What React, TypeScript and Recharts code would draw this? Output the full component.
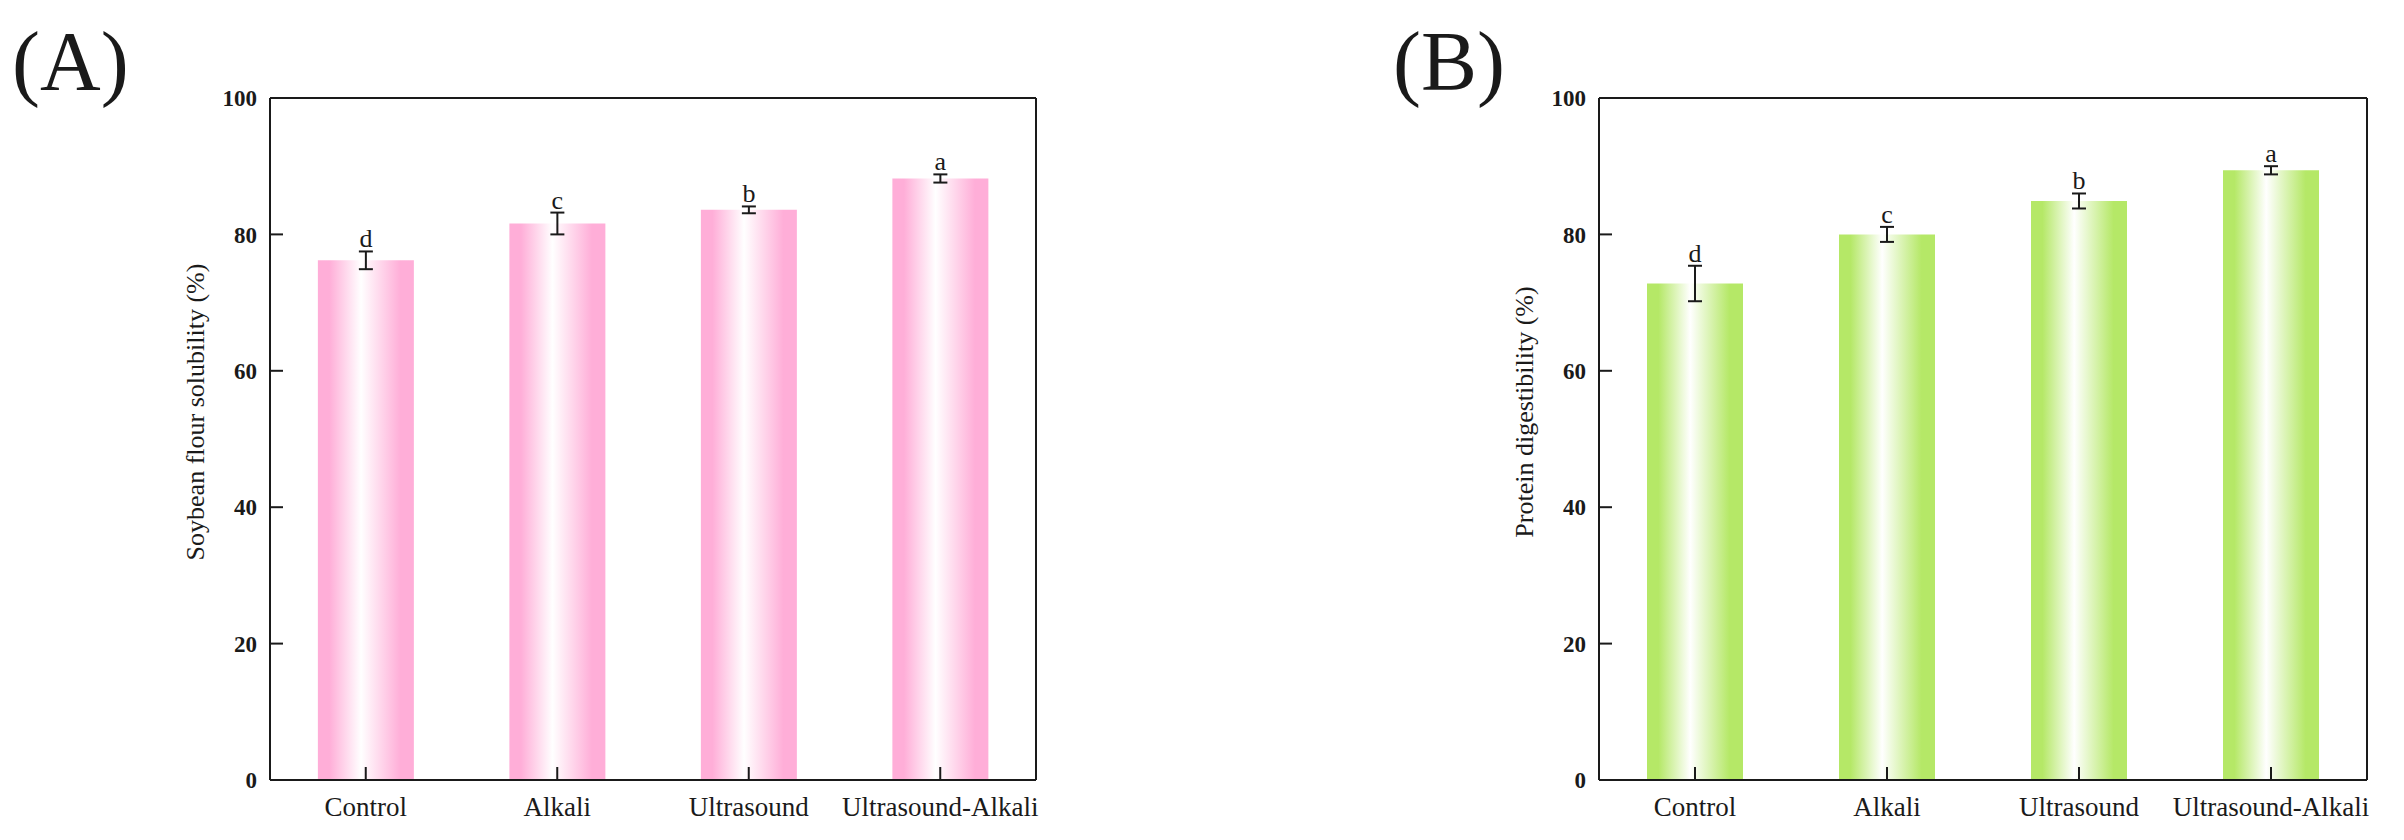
import React from "react";
import {
	Bar,
	BarChart,
	ErrorBar,
	Label,
	LabelList,
	XAxis,
	YAxis,
} from "recharts";

const categories = ["Control", "Alkali", "Ultrasound", "Ultrasound-Alkali"];
const letters = ["d", "c", "b", "a"];

// panel A: soybean flour solubility (%)
const solubility = [76.2, 81.6, 83.6, 88.2];
const solubilityErr = [1.3, 1.6, 0.5, 0.6];

// panel B: protein digestibility (%)
const digestibility = [72.8, 80.0, 84.9, 89.4];
const digestibilityErr = [2.6, 1.1, 1.1, 0.6];

const yTicks = [0, 20, 40, 60, 80, 100];

const FONT = '"Liberation Serif", "Times New Roman", serif';
const INK = "#1a1a1a";

interface PanelProps {
	id: string;
	values: number[];
	errors: number[];
	color: string;
	yLabel: string;
	left: number;
	width: number;
	marginLeft: number;
	marginRight: number;
}

function Panel({
	id,
	values,
	errors,
	color,
	yLabel,
	left,
	width,
	marginLeft,
	marginRight,
}: PanelProps) {
	const data = categories.map((name, i) => ({
		name,
		value: values[i],
		err: errors[i],
		letter: letters[i],
	}));

	const renderLetter = (props: any) => {
		const { x, y, width: w, height: h, index } = props;
		const d = data[index];
		const pxPerUnit = h / d.value;
		const top = y - d.err * pxPerUnit;
		return (
			<text
				x={x + w / 2}
				y={top - 4}
				textAnchor="middle"
				fontFamily={FONT}
				fontSize={26}
				fill={INK}
			>
				{d.letter}
			</text>
		);
	};

	const renderYLabel = (props: any) => {
		const vb = props.viewBox;
		const cx = vb.x + vb.width - 66;
		const cy = vb.y + vb.height / 2 - 27;
		return (
			<text
				x={cx}
				y={cy}
				transform={`rotate(-90 ${cx} ${cy})`}
				textAnchor="middle"
				fontFamily={FONT}
				fontSize={26}
				fill={INK}
			>
				{yLabel}
			</text>
		);
	};

	return (
		<div style={{ position: "absolute", left, top: 0 }}>
			<BarChart
				width={width}
				height={840}
				data={data}
				barCategoryGap="25%"
				margin={{
					top: 97,
					right: marginRight - 1,
					left: marginLeft,
					bottom: 0,
				}}
			>
				<defs>
					<linearGradient id={`grad-${id}`} x1="0" y1="0" x2="1" y2="0">
						<stop offset="0%" stopColor={color} />
						<stop offset="12%" stopColor={color} />
						<stop offset="45%" stopColor="#ffffff" />
						<stop offset="86%" stopColor={color} />
						<stop offset="100%" stopColor={color} />
					</linearGradient>
				</defs>
				<XAxis
					dataKey="name"
					height={60}
					interval={0}
					tickSize={-13}
					tickMargin={30}
					stroke={INK}
					strokeWidth={2}
					tick={{ fontFamily: FONT, fontSize: 27, fill: INK }}
				/>
				<XAxis
					xAxisId="top"
					dataKey="name"
					orientation="top"
					height={1}
					tick={false}
					tickLine={false}
					stroke={INK}
					strokeWidth={2}
				/>
				<YAxis
					width={80}
					domain={[0, 100]}
					ticks={yTicks}
					tickSize={-13}
					tickMargin={26}
					stroke={INK}
					strokeWidth={2}
					tick={{
						fontFamily: FONT,
						fontSize: 23,
						fontWeight: "bold",
						fill: INK,
					}}
				>
					<Label content={renderYLabel} />
				</YAxis>
				<YAxis
					yAxisId="right"
					orientation="right"
					width={1}
					domain={[0, 100]}
					tick={false}
					tickLine={false}
					stroke={INK}
					strokeWidth={2}
				/>
				<Bar dataKey="value" fill={`url(#grad-${id})`} isAnimationActive={false}>
					<ErrorBar
						dataKey="err"
						width={7}
						stroke={INK}
						strokeWidth={2}
						isAnimationActive={false}
					/>
					<LabelList dataKey="letter" content={renderLetter} />
				</Bar>
			</BarChart>
		</div>
	);
}

export default function App() {
	return (
		<div
			style={{
				position: "absolute",
				left: 0,
				top: 0,
				width: 2404,
				height: 840,
				background: "#fff",
			}}
		>
			<Panel
				id="a"
				values={solubility}
				errors={solubilityErr}
				color="#ffaed8"
				yLabel="Soybean flour solubility (%)"
				left={0}
				width={1100}
				marginLeft={190}
				marginRight={64}
			/>
			<Panel
				id="b"
				values={digestibility}
				errors={digestibilityErr}
				color="#b5e867"
				yLabel="Protein digestibility (%)"
				left={1300}
				width={1104}
				marginLeft={219}
				marginRight={37}
			/>
			<svg
				width={2404}
				height={840}
				style={{ position: "absolute", left: 0, top: 0, pointerEvents: "none" }}
			>
				<text x={12} y={90} fontFamily={FONT} fontSize={84} fill={INK}>
					(A)
				</text>
				<text x={1393} y={90} fontFamily={FONT} fontSize={84} fill={INK}>
					(B)
				</text>
			</svg>
		</div>
	);
}
